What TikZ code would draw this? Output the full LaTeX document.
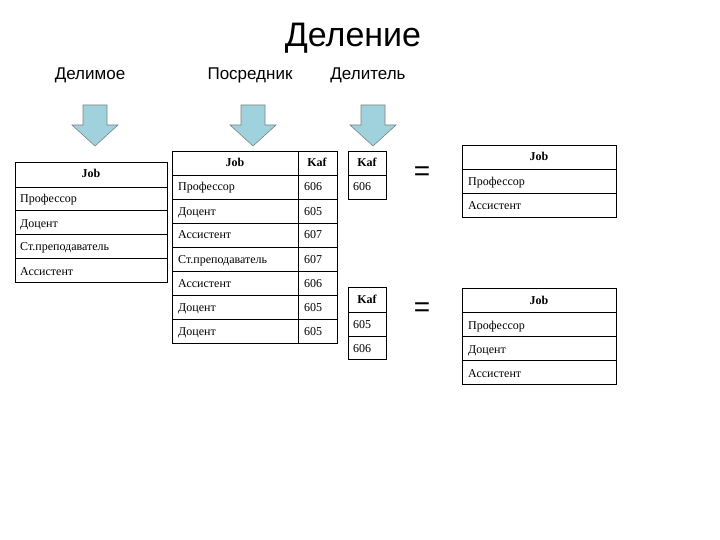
\documentclass[tikz,border=0pt]{standalone}
\usepackage{fontspec}
\setmainfont{Liberation Serif}
\newfontfamily\arial{Liberation Sans}
\definecolor{arrfill}{RGB}{160,210,222}
\begin{document}
\begin{tikzpicture}[x=1pt,y=-1pt,
  cell/.style={draw=black,line width=0.8pt},
  txt/.style={font=\fontsize{12}{14}\selectfont,anchor=base west,inner sep=0pt},
  hdr/.style={font=\fontsize{12}{14}\selectfont\bfseries,anchor=base,inner sep=0pt},
  ttl/.style={font=\arial\fontsize{17}{20}\selectfont},
  arr/.style={fill=arrfill,draw=gray,line width=0.6pt},
  eq/.style={font=\arial\fontsize{28}{30}\selectfont}]
\useasboundingbox (0,0) rectangle (720,540);
\node[font=\arial\fontsize{34}{38}\selectfont] (t) at (353,38) {Деление};
\node[ttl] (h1) at (90,75) {Делимое};
\node[ttl] (h2) at (250,75) {Посредник};
\node[ttl] (h3) at (368,75) {Делитель};
% arrows
\foreach \cx/\n in {95/a1,253/a2,373/a3}{
  \draw[arr] (\cx-12,105) -- (\cx+12,105) -- (\cx+12,125) -- (\cx+23,125) -- (\cx,146) -- (\cx-23,125) -- (\cx-12,125) -- cycle;
}
% table 1
\draw[cell] (15,162) rectangle (167,282);
\foreach \y in {187,210,234,258} \draw[cell] (15,\y) -- (167,\y);
\node[hdr] (j1) at (91,178) {Job};
\node[txt] (r11) at (20,203) {Профессор};
\node[txt] (r12) at (20,227) {Доцент};
\node[txt] (r13) at (20,251) {Ст.преподаватель};
\node[txt] (r14) at (20,275) {Ассистент};
% table 2
\draw[cell] (172,151) rectangle (337,343);
\draw[cell] (298,151) -- (298,343);
\foreach \y in {175,199,223,247,271,295,319} \draw[cell] (172,\y) -- (337,\y);
\node[hdr] (j2) at (235,167) {Job};
\node[hdr] (k2) at (317,167) {Kaf};
\foreach \t/\k [count=\i] in {Профессор/606,Доцент/605,Ассистент/607,Ст.преподаватель/607,Ассистент/606,Доцент/605,Доцент/605}{
  \node[txt] (p\i) at (178,167+24*\i) {\t};
  \node[txt] (q\i) at (304,167+24*\i) {\k};
}
% table 3
\draw[cell] (348,151) rectangle (386,199);
\draw[cell] (348,175) -- (386,175);
\node[hdr] (k3) at (367,167) {Kaf};
\node[txt] (k31) at (353,191) {606};
% table 4
\draw[cell] (348,287) rectangle (386,359);
\foreach \y in {312,336} \draw[cell] (348,\y) -- (386,\y);
\node[hdr] (k4) at (367,303) {Kaf};
\node[txt] (k41) at (353,328) {605};
\node[txt] (k42) at (353,352) {606};
% equals
\node[eq] (e1) at (422,174) {=};
\node[eq] (e2) at (422,310) {=};
% table 5
\draw[cell] (462,145) rectangle (616,217);
\foreach \y in {169,193} \draw[cell] (462,\y) -- (616,\y);
\node[hdr] (j5) at (539,161) {Job};
\node[txt] (r51) at (468,186) {Профессор};
\node[txt] (r52) at (468,210) {Ассистент};
% table 6
\draw[cell] (462,288) rectangle (616,384);
\foreach \y in {312,336,360} \draw[cell] (462,\y) -- (616,\y);
\node[hdr] (j6) at (539,304) {Job};
\node[txt] (r61) at (468,329) {Профессор};
\node[txt] (r62) at (468,353) {Доцент};
\node[txt] (r63) at (468,377) {Ассистент};
\end{tikzpicture}
\end{document}
